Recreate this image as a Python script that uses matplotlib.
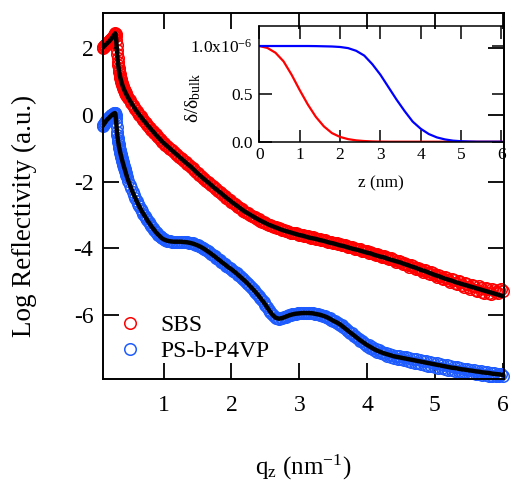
import matplotlib
matplotlib.use("Agg")
import matplotlib.pyplot as plt
from matplotlib.lines import Line2D

plt.rcParams['font.family'] = ['Liberation Serif', 'DejaVu Serif']
plt.rcParams['mathtext.fontset'] = 'custom'
plt.rcParams['mathtext.rm'] = 'Liberation Serif'
plt.rcParams['mathtext.it'] = 'Liberation Serif:italic'
plt.rcParams['axes.unicode_minus'] = False

q_data_low = [0.10, 0.11, 0.12, 0.13, 0.14, 0.15, 0.16, 0.17, 0.18, 0.19,
              0.20, 0.21, 0.22, 0.23, 0.24, 0.25, 0.26, 0.27, 0.28,
              0.285, 0.29, 0.295, 0.30, 0.305, 0.31, 0.315, 0.32, 0.325, 0.33,
              0.335, 0.34, 0.345, 0.35, 0.355, 0.36, 0.365, 0.37, 0.375, 0.38,
              0.385, 0.39, 0.395, 0.40, 0.405, 0.41, 0.415, 0.42, 0.425, 0.43,
              0.435, 0.44, 0.445, 0.45,
              0.46, 0.48, 0.50, 0.52, 0.54, 0.56, 0.58, 0.60, 0.62, 0.64,
              0.66, 0.68, 0.70, 0.72, 0.74, 0.76, 0.78, 0.80, 0.82, 0.84,
              0.86, 0.88, 0.90, 0.92, 0.94, 0.96, 0.98, 1.00]
q_data_high = [1.025, 1.05, 1.075, 1.10, 1.125, 1.15, 1.175, 1.20, 1.225, 1.25,
               1.275, 1.30, 1.325, 1.35, 1.375, 1.40, 1.425, 1.45, 1.475, 1.50,
               1.525, 1.55, 1.575, 1.60, 1.625, 1.65, 1.675, 1.70, 1.725, 1.75,
               1.775, 1.80, 1.825, 1.85, 1.875, 1.90, 1.925, 1.95, 1.975, 2.00,
               2.025, 2.05, 2.075, 2.10, 2.125, 2.15, 2.175, 2.20, 2.225, 2.25,
               2.275, 2.30, 2.325, 2.35, 2.375, 2.40, 2.425, 2.45, 2.475, 2.50,
               2.525, 2.55, 2.575, 2.60, 2.625, 2.65, 2.675, 2.70, 2.725, 2.75,
               2.775, 2.80, 2.825, 2.85, 2.875, 2.90, 2.925, 2.95, 2.975, 3.00,
               3.025, 3.05, 3.075, 3.10, 3.125, 3.15, 3.175, 3.20, 3.225, 3.25,
               3.275, 3.30, 3.325, 3.35, 3.375, 3.40, 3.425, 3.45, 3.475, 3.50,
               3.525, 3.55, 3.575, 3.60, 3.625, 3.65, 3.675, 3.70, 3.725, 3.75,
               3.775, 3.80, 3.825, 3.85, 3.875, 3.90, 3.925, 3.95, 3.975, 4.00,
               4.025, 4.05, 4.075, 4.10, 4.125, 4.15, 4.175, 4.20, 4.225, 4.25,
               4.275, 4.30, 4.325, 4.35, 4.375, 4.40, 4.425, 4.45, 4.475, 4.50,
               4.525, 4.55, 4.575, 4.60, 4.625, 4.65, 4.675, 4.70, 4.725, 4.75,
               4.775, 4.80, 4.825, 4.85, 4.875, 4.90, 4.925, 4.95, 4.975, 5.00,
               5.025, 5.05, 5.075, 5.10, 5.125, 5.15, 5.175, 5.20, 5.225, 5.25,
               5.275, 5.30, 5.325, 5.35, 5.375, 5.40, 5.425, 5.45, 5.475, 5.50,
               5.525, 5.55, 5.575, 5.60, 5.625, 5.65, 5.675, 5.70, 5.725, 5.75,
               5.775, 5.80, 5.825, 5.85, 5.875, 5.90, 5.925, 5.95, 5.975, 6.00]

sbs_data_low = [2.02, 2.04, 2.06, 2.08, 2.10, 2.12, 2.14, 2.16, 2.18, 2.20,
                2.22, 2.24, 2.27, 2.29, 2.32, 2.35, 2.38, 2.41, 2.44,
                2.45, 2.43, 2.36, 2.25, 2.11, 1.95, 1.82, 1.70, 1.60, 1.50,
                1.42, 1.34, 1.28, 1.22, 1.17, 1.12, 1.08, 1.04, 1.00, 0.97,
                0.93, 0.90, 0.87, 0.84, 0.81, 0.79, 0.76, 0.74, 0.71, 0.69,
                0.67, 0.65, 0.62, 0.60,
                0.57, 0.51, 0.44, 0.37, 0.30, 0.24, 0.18, 0.12, 0.06, 0.01,
                -0.04, -0.10, -0.15, -0.20, -0.25, -0.30, -0.35, -0.39, -0.44, -0.49,
                -0.53, -0.58, -0.63, -0.67, -0.71, -0.76, -0.80, -0.84]
sbs_data_high = [-0.89, -0.93, -0.98, -1.03, -1.06, -1.11, -1.16, -1.19, -1.25, -1.29,
                 -1.33, -1.38, -1.42, -1.46, -1.51, -1.56, -1.60, -1.65, -1.70, -1.74,
                 -1.79, -1.84, -1.88, -1.92, -1.97, -2.02, -2.05, -2.10, -2.14, -2.18,
                 -2.23, -2.28, -2.31, -2.35, -2.40, -2.43, -2.48, -2.53, -2.56, -2.60,
                 -2.64, -2.67, -2.72, -2.76, -2.79, -2.82, -2.87, -2.90, -2.93, -2.95,
                 -3.00, -3.03, -3.05, -3.07, -3.11, -3.13, -3.17, -3.20, -3.21, -3.23,
                 -3.27, -3.29, -3.30, -3.32, -3.36, -3.37, -3.38, -3.40, -3.43, -3.44,
                 -3.46, -3.47, -3.49, -3.50, -3.53, -3.54, -3.55, -3.55, -3.58, -3.59,
                 -3.59, -3.60, -3.63, -3.64, -3.64, -3.66, -3.69, -3.67, -3.70, -3.71,
                 -3.72, -3.72, -3.75, -3.76, -3.76, -3.77, -3.80, -3.80, -3.81, -3.83,
                 -3.85, -3.84, -3.87, -3.88, -3.91, -3.90, -3.91, -3.92, -3.96, -3.96,
                 -3.97, -3.98, -4.02, -4.01, -4.02, -4.03, -4.07, -4.08, -4.07, -4.09,
                 -4.13, -4.12, -4.14, -4.16, -4.20, -4.17, -4.19, -4.22, -4.26, -4.24,
                 -4.25, -4.29, -4.33, -4.30, -4.32, -4.35, -4.40, -4.37, -4.38, -4.42,
                 -4.46, -4.44, -4.47, -4.50, -4.55, -4.51, -4.54, -4.58, -4.62, -4.58,
                 -4.61, -4.66, -4.70, -4.64, -4.67, -4.73, -4.77, -4.72, -4.75, -4.81,
                 -4.86, -4.79, -4.82, -4.88, -4.93, -4.87, -4.90, -4.95, -5.00, -4.92,
                 -4.96, -5.03, -5.08, -4.99, -5.02, -5.10, -5.15, -5.05, -5.08, -5.17,
                 -5.21, -5.10, -5.13, -5.24, -5.28, -5.14, -5.18, -5.30, -5.33, -5.20,
                 -5.23, -5.34, -5.37, -5.22, -5.26, -5.30, -5.35, -5.24, -5.22, -5.27]

psp_data_low = [-0.33, -0.30, -0.27, -0.24, -0.21, -0.18, -0.15, -0.13, -0.11, -0.09,
                -0.07, -0.05, -0.03, -0.01, 0.01, 0.02, 0.04, 0.05, 0.06,
                0.05, 0.00, -0.10, -0.22, -0.36, -0.50, -0.60, -0.68, -0.75, -0.82,
                -0.88, -0.94, -0.99, -1.04, -1.09, -1.13, -1.18, -1.22, -1.26, -1.30,
                -1.34, -1.38, -1.42, -1.45, -1.49, -1.52, -1.56, -1.59, -1.63, -1.66,
                -1.69, -1.73, -1.76, -1.79,
                -1.86, -1.98, -2.09, -2.20, -2.30, -2.40, -2.49, -2.58, -2.66, -2.74,
                -2.82, -2.89, -2.96, -3.03, -3.10, -3.16, -3.22, -3.28, -3.34, -3.39,
                -3.45, -3.50, -3.55, -3.59, -3.63, -3.67, -3.70, -3.73]
psp_data_high = [-3.75, -3.77, -3.78, -3.79, -3.80, -3.80, -3.80, -3.80, -3.80, -3.80,
                 -3.80, -3.81, -3.81, -3.82, -3.83, -3.84, -3.85, -3.87, -3.89, -3.91,
                 -3.93, -3.96, -3.99, -4.02, -4.05, -4.09, -4.12, -4.16, -4.20, -4.24,
                 -4.28, -4.32, -4.36, -4.40, -4.44, -4.48, -4.52, -4.56, -4.60, -4.63,
                 -4.67, -4.71, -4.75, -4.80, -4.84, -4.89, -4.93, -4.98, -5.03, -5.08,
                 -5.13, -5.19, -5.24, -5.30, -5.36, -5.42, -5.48, -5.55, -5.62, -5.69,
                 -5.76, -5.84, -5.91, -5.98, -6.04, -6.08, -6.10, -6.11, -6.10, -6.09,
                 -6.07, -6.05, -6.03, -6.01, -5.99, -5.98, -5.97, -5.96, -5.95, -5.95,
                 -5.94, -5.94, -5.93, -5.94, -5.94, -5.94, -5.95, -5.95, -5.96, -5.97,
                 -5.98, -5.99, -6.01, -6.02, -6.04, -6.06, -6.08, -6.10, -6.14, -6.17,
                 -6.18, -6.23, -6.24, -6.29, -6.31, -6.37, -6.39, -6.45, -6.47, -6.53,
                 -6.55, -6.62, -6.63, -6.70, -6.72, -6.78, -6.79, -6.85, -6.86, -6.92,
                 -6.91, -6.98, -6.97, -7.05, -7.02, -7.10, -7.06, -7.14, -7.10, -7.18,
                 -7.13, -7.22, -7.16, -7.25, -7.19, -7.29, -7.22, -7.31, -7.23, -7.33,
                 -7.25, -7.36, -7.27, -7.38, -7.29, -7.41, -7.31, -7.43, -7.33, -7.45,
                 -7.35, -7.47, -7.37, -7.49, -7.39, -7.52, -7.41, -7.54, -7.43, -7.56,
                 -7.45, -7.58, -7.47, -7.60, -7.49, -7.62, -7.51, -7.64, -7.53, -7.66,
                 -7.55, -7.67, -7.57, -7.69, -7.59, -7.71, -7.61, -7.72, -7.63, -7.74,
                 -7.64, -7.75, -7.66, -7.77, -7.68, -7.78, -7.69, -7.80, -7.71, -7.81,
                 -7.72, -7.82, -7.74, -7.83, -7.75, -7.84, -7.77, -7.84, -7.78, -7.83]

# ---------------- model fits (black curves) ----------------
q_fit = [0.10, 0.12, 0.14, 0.16, 0.18, 0.20, 0.22, 0.24, 0.26, 0.28, 0.285,
         0.29, 0.30, 0.31, 0.32, 0.33, 0.34, 0.35, 0.36, 0.37, 0.38, 0.39, 0.40,
         0.43, 0.46, 0.49, 0.52, 0.55, 0.58, 0.61, 0.64, 0.67, 0.70,
         0.73, 0.76, 0.79, 0.82, 0.85, 0.88, 0.91, 0.94, 0.97, 1.00,
         1.05, 1.10, 1.15, 1.20, 1.25, 1.30, 1.35, 1.40, 1.45, 1.50,
         1.55, 1.60, 1.65, 1.70, 1.75, 1.80, 1.85, 1.90, 1.95, 2.00,
         2.05, 2.10, 2.15, 2.20, 2.25, 2.30, 2.35, 2.40, 2.45, 2.50,
         2.55, 2.60, 2.65, 2.70, 2.75, 2.80, 2.85, 2.90, 2.95, 3.00,
         3.05, 3.10, 3.15, 3.20, 3.25, 3.30, 3.35, 3.40, 3.45, 3.50,
         3.55, 3.60, 3.65, 3.70, 3.75, 3.80, 3.85, 3.90, 3.95, 4.00,
         4.05, 4.10, 4.15, 4.20, 4.25, 4.30, 4.35, 4.40, 4.45, 4.50,
         4.55, 4.60, 4.65, 4.70, 4.75, 4.80, 4.85, 4.90, 4.95, 5.00,
         5.05, 5.10, 5.15, 5.20, 5.25, 5.30, 5.35, 5.40, 5.45, 5.50,
         5.55, 5.60, 5.65, 5.70, 5.75, 5.80, 5.85, 5.90, 5.95, 6.00]
sbs_fit = [2.02, 2.06, 2.10, 2.14, 2.18, 2.22, 2.27, 2.32, 2.38, 2.44, 2.45,
           2.43, 2.25, 1.95, 1.70, 1.50, 1.34, 1.22, 1.12, 1.04, 0.97, 0.90, 0.84,
           0.70, 0.58, 0.47, 0.37, 0.27, 0.18, 0.09, 0.01, -0.07, -0.15,
           -0.22, -0.30, -0.37, -0.44, -0.51, -0.58, -0.65, -0.71, -0.78, -0.84,
           -0.93, -1.02, -1.11, -1.20, -1.29, -1.38, -1.47, -1.55, -1.65, -1.75,
           -1.84, -1.93, -2.01, -2.10, -2.19, -2.27, -2.35, -2.44, -2.52, -2.60,
           -2.68, -2.75, -2.83, -2.90, -2.96, -3.02, -3.08, -3.14, -3.19, -3.24,
           -3.29, -3.33, -3.37, -3.41, -3.45, -3.48, -3.51, -3.54, -3.57, -3.60,
           -3.62, -3.65, -3.68, -3.70, -3.72, -3.75, -3.77, -3.80, -3.83, -3.85,
           -3.88, -3.91, -3.93, -3.96, -3.99, -4.02, -4.04, -4.07, -4.10, -4.13,
           -4.15, -4.19, -4.22, -4.25, -4.27, -4.31, -4.34, -4.37, -4.40, -4.43,
           -4.47, -4.50, -4.54, -4.57, -4.61, -4.65, -4.68, -4.72, -4.76, -4.80,
           -4.83, -4.87, -4.91, -4.94, -4.97, -5.01, -5.04, -5.07, -5.10, -5.13,
           -5.16, -5.19, -5.22, -5.25, -5.28, -5.31, -5.34, -5.37, -5.40, -5.43]
psp_fit = [-0.33, -0.27, -0.21, -0.15, -0.11, -0.07, -0.03, 0.01, 0.04, 0.06, 0.05,
           0.00, -0.22, -0.50, -0.68, -0.82, -0.94, -1.04, -1.13, -1.22, -1.30, -1.38, -1.45,
           -1.66, -1.86, -2.04, -2.20, -2.35, -2.49, -2.62, -2.74, -2.86, -2.96,
           -3.06, -3.16, -3.25, -3.34, -3.42, -3.50, -3.57, -3.63, -3.69, -3.73,
           -3.77, -3.79, -3.80, -3.80, -3.80, -3.81, -3.82, -3.84, -3.87, -3.91,
           -3.96, -4.02, -4.09, -4.16, -4.24, -4.32, -4.40, -4.48, -4.56, -4.63,
           -4.71, -4.80, -4.89, -4.98, -5.08, -5.19, -5.30, -5.42, -5.55, -5.69,
           -5.84, -5.98, -6.08, -6.11, -6.09, -6.05, -6.01, -5.98, -5.96, -5.95,
           -5.94, -5.94, -5.94, -5.95, -5.97, -5.99, -6.02, -6.06, -6.11, -6.17,
           -6.22, -6.28, -6.36, -6.44, -6.52, -6.60, -6.68, -6.76, -6.83, -6.90,
           -6.96, -7.02, -7.07, -7.11, -7.15, -7.18, -7.21, -7.24, -7.26, -7.28,
           -7.30, -7.32, -7.34, -7.36, -7.38, -7.40, -7.42, -7.44, -7.46, -7.48,
           -7.50, -7.52, -7.54, -7.56, -7.58, -7.59, -7.61, -7.63, -7.64, -7.66,
           -7.67, -7.69, -7.70, -7.72, -7.73, -7.74, -7.76, -7.77, -7.78, -7.80]

# ---------------- inset: density profiles ----------------
z_nm = [0.0, 0.2, 0.4, 0.6, 0.8, 1.0, 1.2, 1.4, 1.6, 1.8, 2.0, 2.2, 2.4, 2.6,
        2.8, 3.0, 3.2, 3.4, 3.6, 3.8, 4.0, 4.2, 4.4, 4.6, 4.8, 5.0, 5.2, 5.4,
        5.6, 5.8, 6.0]
delta_sbs = [1.00, 0.98, 0.93, 0.84, 0.70, 0.54, 0.39, 0.26, 0.16, 0.09, 0.05,
             0.027, 0.014, 0.007, 0.003, 0.001, 0.0, 0.0, 0.0, 0.0, 0.0, 0.0,
             0.0, 0.0, 0.0, 0.0, 0.0, 0.0, 0.0, 0.0, 0.0]
delta_psp = [1.00, 1.00, 1.00, 1.00, 1.00, 1.00, 1.00, 0.999, 0.997, 0.995, 0.99,
             0.978, 0.95, 0.90, 0.81, 0.70, 0.57, 0.44, 0.32, 0.21, 0.135,
             0.08, 0.045, 0.024, 0.011, 0.005, 0.002, 0.0, 0.0, 0.0, 0.0]

labels = ['SBS', 'PS-b-P4VP']
xticks_main = [1, 2, 3, 4, 5, 6]
yticks_main = [2, 0, -2, -4, -6]
inset_xticks = [0, 1, 2, 3, 4, 5, 6]
inset_yticks = [0.0, 0.5, 1.0]
inset_yticklabels = ['0.0', '0.5', '1.0x10$^{\\mathrm{-6}}$']

red = '#ff0000'
blue = '#1f5cff'

# ---------------- figure ----------------
fig = plt.figure(figsize=(5.13, 4.87), dpi=100)
ax = fig.add_axes([0.2008, 0.2224, 0.7817, 0.7515])

mk = dict(linestyle='none', marker='o', ms=8.3, mfc='none', mew=1.1,
          clip_on=False, zorder=2)
ax.plot(q_data_low + q_data_high, sbs_data_low + sbs_data_high, mec=red, **mk)
ax.plot(q_data_low + q_data_high, psp_data_low + psp_data_high, mec=blue, **mk)
ax.plot(q_fit, sbs_fit, color='black', lw=3.2, zorder=3)
ax.plot(q_fit, psp_fit, color='black', lw=3.2, zorder=3)

ax.set_xlim(0.105, 6.02)
ax.set_ylim(-7.91, 3.07)
ax.set_xticks(xticks_main)
ax.set_yticks(yticks_main)
ax.tick_params(direction='in', length=11.5, width=1.3, labelsize=17,
               top=True, right=True, color='black')
ax.tick_params(axis='x', pad=12)
ax.tick_params(axis='y', pad=7)
for s in ax.spines.values():
    s.set_linewidth(1.4)
ax.set_xlabel('q$_{\\mathrm{z}}$ (nm$^{\\mathrm{-1}}$)', fontsize=18, labelpad=26)
ax.set_ylabel('Log Reflectivity (a.u.)', fontsize=19.5)
ax.yaxis.set_label_coords(-0.165, 0.445)

handles = [Line2D([], [], linestyle='none', marker='o', ms=8.3, mfc='none',
                  mec=c, mew=1.1) for c in (red, blue)]
ax.legend(handles, labels, loc='center left', bbox_to_anchor=(0.037, 0.11),
          frameon=False, fontsize=17, handlelength=1.0, handletextpad=0.8,
          borderpad=0, borderaxespad=0, labelspacing=0.2)

# ---------------- inset ----------------
ins = fig.add_axes([0.5039, 0.7090, 0.4776, 0.2366])
ins.patch.set_alpha(0)
ins.plot(z_nm, delta_sbs, color='#ff0000', lw=1.6)
ins.plot(z_nm, delta_psp, color='#0000ff', lw=1.6)
ins.set_xlim(-0.02, 6.05)
ins.set_ylim(0, 1.204)
ins.set_xticks(inset_xticks)
ins.set_yticks(inset_yticks)
ins.set_yticklabels(inset_yticklabels)
ins.tick_params(direction='in', length=9, width=1.1, labelsize=12.5,
                top=True, right=True)
ins.tick_params(axis='x', pad=4)
ins.tick_params(axis='y', pad=4)
for s in ins.spines.values():
    s.set_linewidth(1.1)
ins.set_xlabel('z (nm)', fontsize=12.5, labelpad=9)
ins.set_ylabel('δ/δ$_{\\mathrm{bulk}}$', fontsize=14)
ins.yaxis.set_label_coords(-0.225, 0.38)

fig.savefig('out.png', dpi=100)
